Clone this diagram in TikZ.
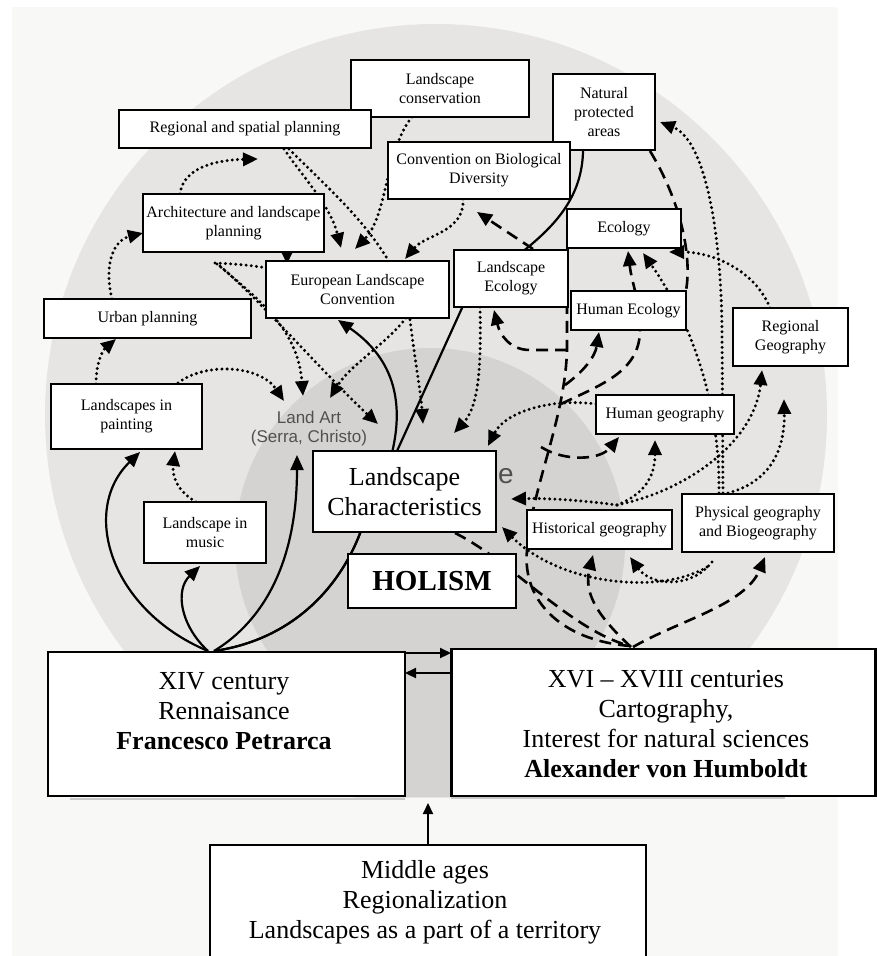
\documentclass[tikz,border=0pt]{standalone}
\usepackage{fontspec}
\setmainfont{Liberation Serif}
\newfontfamily\artsans{Liberation Sans}
\usetikzlibrary{arrows.meta}
\newcommand{\lblsize}{\fontsize{16}{19}\selectfont}
\newcommand{\bigsize}{\fontsize{26}{30}\selectfont}
\newcommand{\holsize}{\fontsize{29}{32}\selectfont}
\definecolor{panel}{RGB}{248,248,246}
\definecolor{outerdisc}{RGB}{230,229,227}
\definecolor{innerdisc}{RGB}{212,211,209}
\definecolor{greytext}{RGB}{80,80,80}
\definecolor{shadowline}{RGB}{200,200,200}
\pgfdeclarelayer{bg}
\pgfdeclarelayer{links}
\pgfsetlayers{bg,links,main}

\begin{document}
\begin{tikzpicture}[x=1pt,y=-1pt,
  box/.style={draw=black,line width=2.4pt,fill=white,inner sep=0pt,align=center,font=\lblsize},
  bigbox/.style={draw=black,line width=2.4pt,fill=white,inner sep=0pt},
  bigtext/.style={align=center,font=\bigsize,inner sep=0pt},
  arrowtip/.style={-{Triangle[length=15pt,width=13pt]}},
  smalltip/.style={-{Triangle[length=11pt,width=10pt]}},
  solidlink/.style={line width=2.2pt,arrowtip},
  dotlink/.style={line width=3.3pt,line cap=round,dash pattern=on 0pt off 5.2pt,arrowtip},
  dashlink/.style={line width=2.6pt,dash pattern=on 12pt off 7pt,arrowtip},
]
\useasboundingbox (0,0) rectangle (877,956);

% ---------- background: panel and the two discs ----------
\begin{pgfonlayer}{bg}
  \fill[white] (0,0) rectangle (877,956);
  \fill[panel] (12,7) rectangle (838,956);
  \begin{scope}
    \clip (0,0) rectangle (877,797);
    \fill[outerdisc] (436,415) circle[radius=391pt];
    \fill[innerdisc] (430,543) circle[radius=195pt];
    \fill[innerdisc] (405,700) rectangle (451,797);
  \end{scope}
  \draw[shadowline,line width=2pt] (70,799) -- (405,799);
  \draw[shadowline,line width=2pt] (451,798) -- (785,798);
  \node[font=\artsans\fontsize{28}{30}\selectfont,text=greytext,inner sep=0pt] (frag) at (506,476) {e};
\end{pgfonlayer}

% ---------- boxes ----------
\node[box,minimum width=178pt,minimum height=57pt] (cons) at (440,88.5) {Landscape\\conservation};
\node[box,minimum width=252pt,minimum height=38pt] (rsp) at (245,129) {Regional and spatial planning};
\node[box,minimum width=102pt,minimum height=76pt] (npa) at (604,112) {Natural\\protected\\areas};
\node[box,minimum width=182pt,minimum height=57pt] (cbd) at (479,170.5) {Convention on Biological\\Diversity};
\node[box,minimum width=181pt,minimum height=58pt] (arch) at (233.5,223) {Architecture and landscape\\planning};
\node[box,minimum width=114pt,minimum height=39pt] (eco) at (624,228.5) {Ecology};
\node[box,minimum width=183pt,minimum height=57pt] (elc) at (357.5,289.5) {European Landscape\\Convention};
\node[box,minimum width=114pt,minimum height=57pt] (le) at (511,278.5) {Landscape\\Ecology};
\node[box,minimum width=115pt,minimum height=39pt] (he) at (628.5,310.5) {Human Ecology};
\node[box,minimum width=207pt,minimum height=39pt] (urb) at (147.5,318.5) {Urban planning};
\node[box,minimum width=115pt,minimum height=58pt] (rg) at (790.5,337) {Regional\\Geography};
\node[box,minimum width=151pt,minimum height=65pt] (lip) at (126.5,416.5) {Landscapes in\\painting};
\node[box,minimum width=138pt,minimum height=39pt] (hg) at (665,414.5) {Human geography};
\node[box,minimum width=183pt,minimum height=81pt,font=\bigsize] (lc) at (404.5,491.5) {Landscape\\Characteristics};
\node[box,minimum width=122pt,minimum height=61pt] (lim) at (205,532.5) {Landscape in\\music};
\node[box,minimum width=145pt,minimum height=39pt] (histg) at (599.5,529.5) {Historical geography};
\node[box,minimum width=152pt,minimum height=58pt] (pg) at (758,523) {Physical geography\\and Biogeography};
\node[box,minimum width=168pt,minimum height=54pt,font=\holsize\bfseries] (hol) at (432,581) {HOLISM};
\node[bigbox,minimum width=357pt,minimum height=144pt] (pet) at (226.5,724) {};
\node[bigbox,minimum width=424pt,minimum height=147pt] (hum) at (663.5,722.5) {};
\node[bigbox,minimum width=436pt,minimum height=122pt] (mid) at (428,906) {};
\node[bigtext] (pettext) at (224,711) {XIV century\\Rennaisance\\\textbf{Francesco Petrarca}};
\node[bigtext] (humtext) at (666,724) {XVI -- XVIII centuries\\Cartography,\\Interest for natural sciences\\\textbf{Alexander von Humboldt}};
\node[bigtext] (midtext) at (425,902) {Middle ages\\Regionalization\\Landscapes as a part of a territory};
\node[align=center,font=\artsans\fontsize{17}{19}\selectfont,text=greytext,inner sep=0pt] (landart) at (309,428.5) {Land Art\\(Serra, Christo)};

% ---------- end points of the links ----------
\coordinate (petA) at (208,651);
\coordinate (petB) at (214,651);
\coordinate (lipIn) at (140,452);
\coordinate (limIn) at (200,566);
\coordinate (artIn) at (297,455);
\coordinate (elcIn) at (338,320);
\coordinate (npaIn) at (583,146);
\coordinate (petOut) at (405,653);
\coordinate (humIn) at (451,653);
\coordinate (humOut) at (451,673);
\coordinate (petIn) at (405,673);
\coordinate (midOut) at (428,845);
\coordinate (gapIn) at (428,803);
\coordinate (archOut) at (287,250);
\coordinate (elcTopA) at (287,264);

\coordinate (urbTop) at (112,299);
\coordinate (archLeft) at (143,233);
\coordinate (archTop) at (180,194);
\coordinate (rspIn) at (258,159);
\coordinate (rspOutA) at (284,149);
\coordinate (rspOutB) at (289,149);
\coordinate (elcTopB) at (341,248);
\coordinate (elcUnder) at (410,320);
\coordinate (lcTopA) at (423,424);
\coordinate (consOut) at (412,117);
\coordinate (elcTopC) at (355,249);
\coordinate (cbdOut) at (463,199);
\coordinate (elcTopD) at (405,259);
\coordinate (elcBot) at (406,318);
\coordinate (artInA) at (330,398);
\coordinate (hubA) at (217,264);
\coordinate (hubB) at (220,266);
\coordinate (hubC) at (215,263);
\coordinate (elcLeft) at (274,269);
\coordinate (artInB) at (303,396);
\coordinate (lcTopB) at (378,424);
\coordinate (lipRight) at (178,383);
\coordinate (artInC) at (284,401);
\coordinate (lipTop) at (96,384);
\coordinate (urbIn) at (116,339);
\coordinate (limTop) at (196,502);
\coordinate (lipIn2) at (175,451);
\coordinate (leBot) at (480,307);
\coordinate (lcTopC) at (454,433);
\coordinate (hgLeft) at (596,404);
\coordinate (lcTopD) at (488,446);
\coordinate (junc) at (617,505);
\coordinate (lcRight) at (511,499);
\coordinate (hgIn) at (655,440);
\coordinate (rgIn) at (762,370);
\coordinate (pgTopA) at (728,493);
\coordinate (rgInB) at (784,399);
\coordinate (pgTopB) at (723,493);
\coordinate (npaRight) at (660,122);
\coordinate (pgTopC) at (719,493);
\coordinate (ecoInA) at (643,253);
\coordinate (rgTop) at (770,308);
\coordinate (ecoRight) at (669,252);
\coordinate (pgLowA) at (712,562);
\coordinate (histIn) at (630,557);
\coordinate (pgLowB) at (707,567);
\coordinate (lcCorner) at (502,527);

\coordinate (leTop) at (533,249);
\coordinate (cbdIn) at (477,212);
\coordinate (npaBot) at (650,151);
\coordinate (heEdge) at (684,300);
\coordinate (humTop) at (630,646);
\coordinate (trunkA) at (567,350);
\coordinate (trunkEnd) at (567,300);
\coordinate (leIn) at (494,310);
\coordinate (trunkB) at (565,385);
\coordinate (heIn) at (599,332);
\coordinate (trunkC) at (561,404);
\coordinate (ecoInB) at (628,251);
\coordinate (trunkD) at (541,447);
\coordinate (hgInB) at (619,437);
\coordinate (humTopB) at (631,647);
\coordinate (histInB) at (593,555);
\coordinate (humTopC) at (633,647);
\coordinate (pgIn) at (765,557);
\coordinate (lcBot) at (455,533);

% ---------- links ----------
\begin{pgfonlayer}{links}
  % solid links from Petrarca
  \draw[solidlink] (petA) .. controls (110,610) and (80,510) .. (lipIn);
  \draw[solidlink] (petA) .. controls (180,625) and (175,590) .. (limIn);
  \draw[solidlink] (petB) .. controls (265,620) and (297,560) .. (artIn);
  \draw[solidlink] (petB) .. controls (290,640) and (340,590) .. (362,528)
        .. controls (395,465) and (425,380) .. (elcIn);
  \draw[line width=2.2pt] (petB) .. controls (290,640) and (340,590) .. (362,528)
        -- (462,308) .. controls (490,260) and (585,235) .. (npaIn);
  \draw[line width=2.2pt,smalltip] (petOut) -- (humIn);
  \draw[line width=2.2pt,smalltip] (humOut) -- (petIn);
  \draw[line width=2.2pt,smalltip] (midOut) -- (gapIn);
  \draw[line width=2.2pt,smalltip] (archOut) -- (elcTopA);

  % dotted links, planning side
  \draw[dotlink] (urbTop) .. controls (103,262) and (115,240) .. (archLeft);
  \draw[dotlink] (archTop) .. controls (183,168) and (215,160) .. (rspIn);
  \draw[dotlink] (rspOutA) .. controls (305,180) and (330,205) .. (elcTopB);
  \draw[dotlink] (rspOutB) .. controls (340,200) and (400,250) .. (elcUnder)
        .. controls (415,360) and (421,395) .. (lcTopA);
  \draw[dotlink] (consOut) .. controls (385,150) and (388,215) .. (elcTopC);
  \draw[dotlink] (cbdOut) .. controls (465,232) and (425,235) .. (elcTopD);
  \draw[dotlink] (elcBot) .. controls (385,345) and (350,365) .. (artInA);
  \draw[dotlink] (hubA) .. controls (260,300) and (298,330) .. (artInB);
  \draw[dotlink] (hubB) .. controls (260,300) and (330,380) .. (lcTopB);
  \draw[dotlink,-] (hubC) .. controls (240,264) and (255,266) .. (elcLeft);
  \draw[dotlink] (lipRight) .. controls (205,362) and (260,365) .. (artInC);
  \draw[dotlink] (lipTop) .. controls (96,362) and (103,350) .. (urbIn);
  \draw[dotlink] (limTop) .. controls (176,490) and (172,475) .. (lipIn2);

  % dotted links, geography side
  \draw[dotlink] (leBot) .. controls (482,385) and (475,410) .. (lcTopC);
  \draw[dotlink] (hgLeft) .. controls (550,398) and (505,412) .. (lcTopD);
  \draw[dotlink] (junc) .. controls (580,500) and (545,498) .. (lcRight);
  \draw[dotlink] (junc) .. controls (650,492) and (655,470) .. (hgIn);
  \draw[dotlink] (junc) .. controls (690,490) and (755,440) .. (rgIn);
  \draw[dotlink] (pgTopA) .. controls (770,482) and (785,450) .. (rgInB);
  \draw[dotlink] (pgTopB) -- (722,330) .. controls (721,230) and (705,140) .. (npaRight);
  \draw[dotlink] (pgTopC) .. controls (720,400) and (690,320) .. (ecoInA);
  \draw[dotlink] (rgTop) .. controls (755,270) and (712,252) .. (ecoRight);
  \draw[dotlink] (pgLowA) .. controls (690,590) and (650,585) .. (histIn);
  \draw[dotlink] (pgLowB) .. controls (660,595) and (560,585) .. (lcCorner);

  % dashed links
  \draw[dashlink] (leTop) -- (cbdIn);
  \draw[dashlink,-] (npaBot) .. controls (680,200) and (695,260) .. (heEdge);
  \draw[dashlink,-] (humTop) .. controls (560,640) and (522,600) .. (527,550)
        .. controls (531,490) and (565,420) .. (trunkA) -- (trunkEnd);
  \draw[dashlink] (trunkA) -- (530,350) .. controls (510,350) and (500,335) .. (leIn);
  \draw[dashlink] (trunkB) .. controls (583,372) and (595,357) .. (heIn);
  \draw[dashlink] (trunkC) .. controls (600,385) and (640,372) .. (640,330)
        .. controls (640,300) and (632,285) .. (ecoInB);
  \draw[dashlink] (trunkD) .. controls (565,462) and (600,460) .. (hgInB);
  \draw[dashlink] (humTopB) .. controls (600,618) and (583,595) .. (histInB);
  \draw[dashlink] (humTopC) .. controls (680,620) and (745,605) .. (pgIn);
  \draw[dashlink,-] (lcBot) .. controls (510,560) and (570,630) .. (humTop);
\end{pgfonlayer}
\end{tikzpicture}
\end{document}
